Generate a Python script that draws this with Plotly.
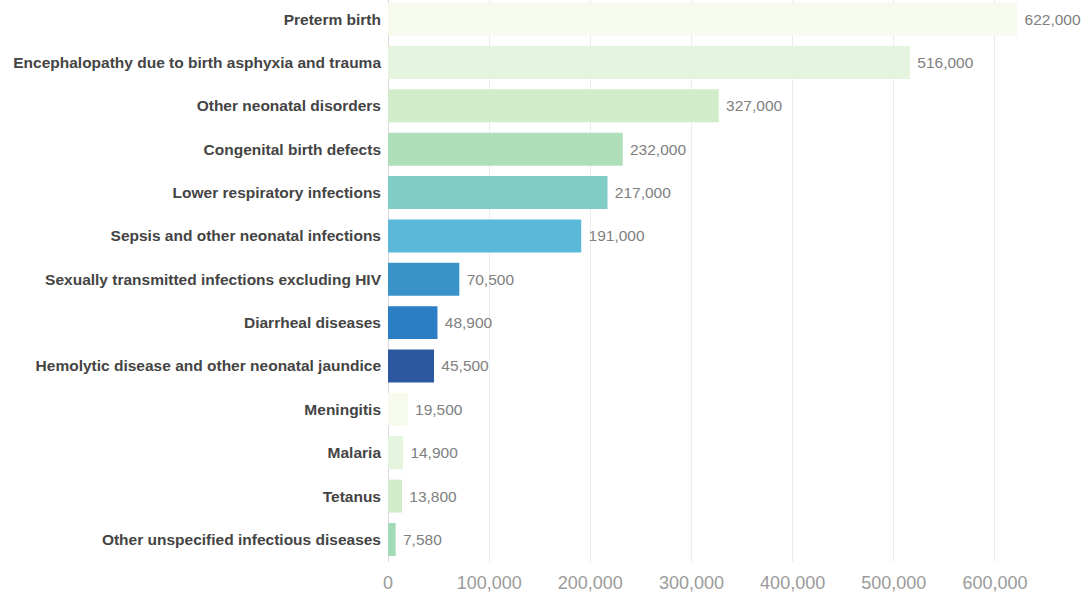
import plotly.graph_objects as go

categories = [
    "Preterm birth",
    "Encephalopathy due to birth asphyxia and trauma",
    "Other neonatal disorders",
    "Congenital birth defects",
    "Lower respiratory infections",
    "Sepsis and other neonatal infections",
    "Sexually transmitted infections excluding HIV",
    "Diarrheal diseases",
    "Hemolytic disease and other neonatal jaundice",
    "Meningitis",
    "Malaria",
    "Tetanus",
    "Other unspecified infectious diseases",
]
values = [622000, 516000, 327000, 232000, 217000, 191000, 70500, 48900, 45500,
          19500, 14900, 13800, 7580]
bar_colors = ["#f6fbee", "#e4f4df", "#d0ecc8", "#afdfb9", "#80cdc7", "#5bb8d8",
              "#3a93c8", "#2b7ec3", "#2b58a0", "#f6fbee", "#e4f4df", "#d0ecc8",
              "#a3dab8"]
tick_vals = [0, 100000, 200000, 300000, 400000, 500000, 600000]
tick_text = ["0", "100,000", "200,000", "300,000", "400,000", "500,000", "600,000"]
value_labels = [f"{v:,}" for v in values]

fig = go.Figure(go.Bar(
    x=values,
    y=categories,
    orientation="h",
    marker=dict(color=bar_colors, line=dict(width=0)),
    text=value_labels,
    texttemplate="&nbsp;%{text}",
    textposition="outside",
    textfont=dict(family="Liberation Sans, Arial, sans-serif", size=15.5, color="#808080"),
    cliponaxis=False,
    hoverinfo="skip",
))

fig.update_layout(
    width=1087,
    height=597,
    margin=dict(l=388, r=1, t=0, b=35),
    paper_bgcolor="white",
    plot_bgcolor="white",
    bargap=0.24,
    showlegend=False,
    font=dict(family="Liberation Sans, Arial, sans-serif"),
    xaxis=dict(
        range=[0, 690000],
        tickvals=tick_vals,
        ticktext=tick_text,
        showgrid=True,
        gridcolor="#ececec",
        gridwidth=1,
        zeroline=True,
        zerolinecolor="#d8d8d8",
        zerolinewidth=1,
        tickfont=dict(size=18, color="#9a9a9a"),
        ticks="",
        ticklabelstandoff=8,
        automargin=False,
        fixedrange=True,
    ),
    yaxis=dict(
        type="category",
        categoryorder="array",
        categoryarray=categories,
        range=[12.52, -0.44],
        tickfont=dict(size=15.5, color="#444444", family="Liberation Sans, Arial, sans-serif", weight="bold"),
        ticks="",
        ticklabelstandoff=6,
        showgrid=False,
        automargin=False,
        fixedrange=True,
    ),
)

fig.write_html("out.html")
